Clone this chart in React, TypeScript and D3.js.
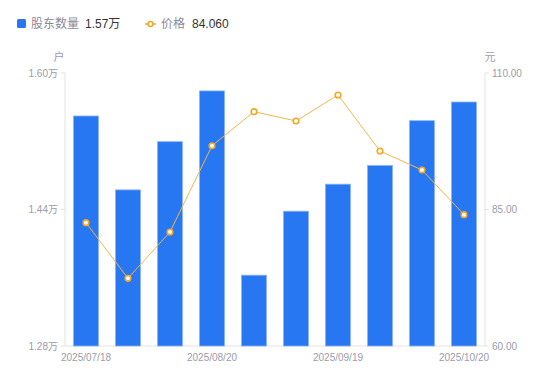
import React from "react";
import * as d3 from "d3";

const dates = ["2025/07/18","2025/07/31","2025/08/10","2025/08/20","2025/08/31","2025/09/10","2025/09/19","2025/09/30","2025/10/10","2025/10/20"];
const holders = [1.5496,1.463,1.5195,1.579,1.363,1.438,1.4697,1.4916,1.5441,1.566];
const prices = [82.58,72.40,80.88,96.68,102.91,101.21,105.97,95.71,92.23,84.06];
const leftTicks = [1.28,1.44,1.60];
const rightTicks = [60,85,110];
const shownDates = ["2025/07/18","2025/08/20","2025/09/19","2025/10/20"];

const W = 550, H = 381;
const m = { l: 65, r: 485, t: 73, b: 346 };
const font = "'Liberation Sans', Arial, 'Noto Sans CJK SC', sans-serif";

export default function App() {
  const band = d3.scaleBand<string>().domain(dates).range([m.l, m.r]);
  const yL = d3.scaleLinear().domain([1.28, 1.6]).range([m.b, m.t]);
  const yR = d3.scaleLinear().domain([60, 110]).range([m.b, m.t]);
  const cx = (d: string) => (band(d) as number) + band.bandwidth() / 2;
  const bw = 25;
  const line = d3.line<number>().x((_, i) => cx(dates[i])).y((v) => yR(v));
  const axisC = "#e3e3e6";
  const tickC = "#9b9bab";
  return (
    <svg width={W} height={H} style={{ position: "absolute", left: 0, top: 0 }} fontFamily={font}>
      <rect width={W} height={H} fill="#fff" />
      {/* legend */}
      <rect x={17} y={19} width={9} height={9} rx={1.5} fill="#2776f2" />
      <text x={31} y={28} fontSize={12} fill="#8a8a99">股东数量</text>
      <text x={85} y={28} fontSize={12} fill="#333">1.57万</text>
      <line x1={145} x2={156} y1={24} y2={24} stroke="#f5a623" strokeWidth={1.5} />
      <circle cx={150.5} cy={24} r={2.5} fill="#fff" stroke="#f5a623" strokeWidth={1.5} />
      <text x={161} y={28} fontSize={12} fill="#8a8a99">价格</text>
      <text x={192} y={28} fontSize={12} fill="#333">84.060</text>
      {/* units */}
      <text x={59} y={61} fontSize={11} fill={tickC} textAnchor="middle">户</text>
      <text x={490} y={61} fontSize={11} fill={tickC} textAnchor="middle">元</text>
      {/* axes */}
      <line x1={m.l} x2={m.l} y1={m.t} y2={m.b} stroke={axisC} />
      <line x1={m.r} x2={m.r} y1={m.t} y2={m.b} stroke={axisC} />
      <line x1={m.l} x2={m.r} y1={m.b} y2={m.b} stroke={axisC} />
      {leftTicks.map((t) => (
        <g key={"l" + t}>
          <line x1={m.l - 4} x2={m.l} y1={yL(t)} y2={yL(t)} stroke={axisC} />
          <text x={m.l - 7} y={yL(t) + 3.5} fontSize={10} fill={tickC} textAnchor="end">{t.toFixed(2)}万</text>
        </g>
      ))}
      {rightTicks.map((t) => (
        <g key={"r" + t}>
          <line x1={m.r} x2={m.r + 4} y1={yR(t)} y2={yR(t)} stroke={axisC} />
          <text x={m.r + 7} y={yR(t) + 3.5} fontSize={10} fill={tickC} textAnchor="start">{t.toFixed(2)}</text>
        </g>
      ))}
      {shownDates.map((d) => (
        <text key={d} x={cx(d)} y={361} fontSize={10} fill={tickC} textAnchor="middle">{d}</text>
      ))}
      {/* bars */}
      {holders.map((v, i) => (
        <rect key={i} x={cx(dates[i]) - bw / 2} y={yL(v)} width={bw} height={m.b - yL(v)}
          fill="#2776f2" stroke="#8ab4f8" strokeWidth={0.8} />
      ))}
      {/* line */}
      <path d={line(prices) || ""} fill="none" stroke="#f7b548" strokeWidth={1} />
      {prices.map((v, i) => (
        <circle key={i} cx={cx(dates[i])} cy={yR(v)} r={2.8} fill="#fff" stroke="#f5a623" strokeWidth={1.6} />
      ))}
    </svg>
  );
}
